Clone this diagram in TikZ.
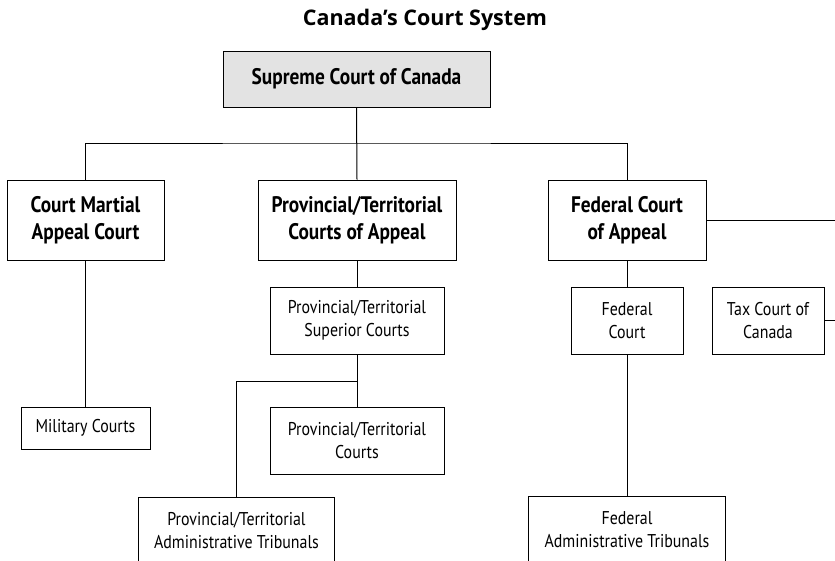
\documentclass[tikz,border=0pt]{standalone}
\usepackage{fontspec}
\setmainfont{PT Sans}[FakeStretch=0.86]
\newfontfamily\titlefont{Open Sans}[BoldFont={Open Sans Bold}]
\usetikzlibrary{positioning}
\definecolor{boxgray}{HTML}{E3E3E3}
\tikzset{
  courtbox/.style={draw=black, line width=1pt, fill=white, align=center, inner sep=0pt},
  majorbox/.style={courtbox, font=\bfseries\fontsize{22.5}{27}\selectfont},
  minorbox/.style={courtbox, font=\fontsize{18.5}{23}\selectfont},
  link/.style={draw=black, line width=1pt}
}
\begin{document}
\begin{tikzpicture}[x=1pt,y=-1pt]
\useasboundingbox (0,0) rectangle (835,560);
\clip (0,0) rectangle (835,560);
\node[font=\titlefont\bfseries\fontsize{21.5}{26}\selectfont] (title) at (425,19.5) {Canada’s Court System};
\node[majorbox, fill=boxgray, minimum width=267pt, minimum height=56pt] (sup) at (356.5,79) {Supreme Court of Canada};
\node[majorbox, minimum width=157pt, minimum height=80pt] (cma) at (85.5,220) {Court Martial\\Appeal Court};
\node[majorbox, minimum width=198pt, minimum height=80pt] (pta) at (357,220) {Provincial/Territorial\\Courts of Appeal};
\node[majorbox, minimum width=158pt, minimum height=80pt] (fca) at (627,220) {Federal Court\\of Appeal};
\node[minorbox, minimum width=174pt, minimum height=67pt] (pts) at (357,320.5) {Provincial/Territorial\\Superior Courts};
\node[minorbox, minimum width=112pt, minimum height=67pt] (fc) at (627,320.5) {Federal\\Court};
\node[minorbox, minimum width=112pt, minimum height=67pt] (tax) at (768,320.5) {Tax Court of\\Canada};
\node[minorbox, minimum width=129pt, minimum height=42pt] (mil) at (85.5,428) {Military Courts};
\node[minorbox, minimum width=174pt, minimum height=67pt] (ptc) at (357,440.5) {Provincial/Territorial\\Courts};
\node[minorbox, minimum width=196pt, minimum height=67pt] (pad) at (236.5,530.5) {Provincial/Territorial\\Administrative Tribunals};
\node[minorbox, minimum width=197pt, minimum height=67pt] (fad) at (627,530) {Federal\\Administrative Tribunals};
\coordinate (j1) at (357,143);
\coordinate (j2) at (357,381);
\coordinate (offfca) at (840,220);
\coordinate (offtax) at (840,320.5);
\draw[link] (sup.south) -- (pta.north);
\draw[link] (cma.north) |- (j1) -| (fca.north);
\draw[link] (fca.east) -- (offfca);
\draw[link] (tax.east) -- (offtax);
\draw[link] (cma.south) -- (mil.north);
\draw[link] (pta.south) -- (pts.north);
\draw[link] (pts.south) -- (ptc.north);
\draw[link] (j2) -| (pad.north);
\draw[link] (fca.south) -- (fc.north);
\draw[link] (fc.south) -- (fad.north);
\end{tikzpicture}
\end{document}
